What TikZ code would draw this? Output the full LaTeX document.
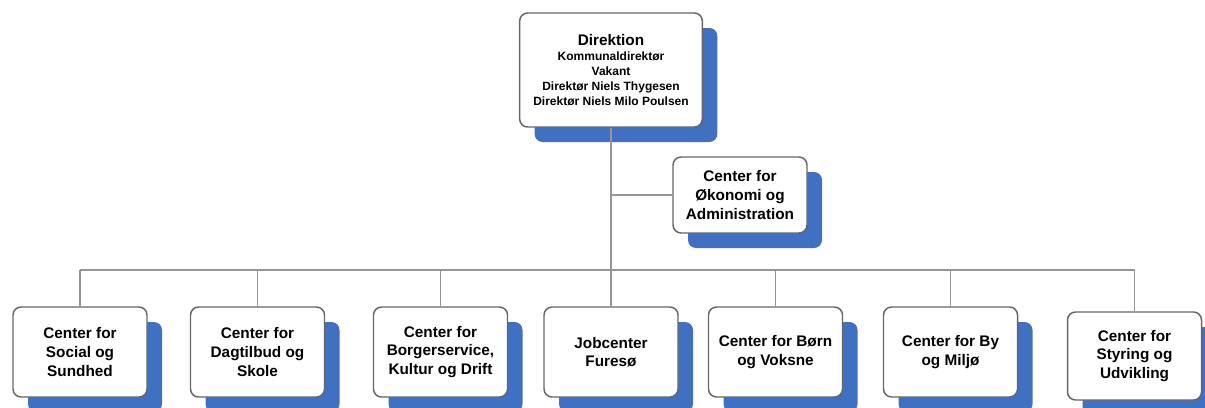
\documentclass[tikz,border=0pt]{standalone}
\usepackage{fontspec}
\setmainfont{Liberation Sans}
\usetikzlibrary{positioning,shadows}
\definecolor{shadowblue}{RGB}{64,112,194}
\definecolor{linegray}{RGB}{150,150,150}

\begin{document}
\begin{tikzpicture}[x=.75pt,y=-.75pt,
  font=\bfseries\fontsize{11.5}{14}\selectfont,
  orgbox/.style={draw=black!60,line width=1.1pt,fill=white,rounded corners=6pt,
    align=center,inner sep=2pt,minimum width=100.5pt,minimum height=67.5pt,
    drop shadow={shadow xshift=11.25pt,shadow yshift=-11.25pt,fill=shadowblue,opacity=1}},
  conn/.style={draw=linegray,line width=1.3pt}]
\useasboundingbox (0,0) rectangle (1205,407);
% top of the chart
\node[orgbox,minimum width=137pt,minimum height=85.5pt] (dir) at (611,70)
  {Direktion\\[-2.8pt]\fontsize{9}{11.6}\selectfont Kommunaldirektør\\[-2.6pt]
   \fontsize{9}{11.6}\selectfont Vakant\\[-2.6pt]
   \fontsize{9}{11.6}\selectfont Direktør Niels Thygesen\\[-2.6pt]
   \fontsize{9}{11.6}\selectfont Direktør Niels Milo Poulsen};
\node[orgbox,minimum height=57pt] (oek) at (740,195) {Center for\\Økonomi og\\Administration};
% the seven centres
\node[orgbox] (soc) at (80,352) {Center for\\Social og\\Sundhed};
\node[orgbox] (dag) at (257.5,352) {Center for\\Dagtilbud og\\Skole};
\node[orgbox] (bor) at (440.5,352) {Center for\\Borgerservice,\\Kultur og Drift};
\node[orgbox] (job) at (611,352) {Jobcenter\\Furesø};
\node[orgbox] (bv) at (775.5,352) {Center for Børn\\og Voksne};
\node[orgbox] (by) at (950.5,352) {Center for By\\og Miljø};
\node[orgbox,minimum height=66pt] (sty) at (1134.5,356) {Center for\\Styring og\\Udvikling};
% connectors
\coordinate (bar) at (611,270);
\begin{scope}[on background layer/.try]
\draw[conn] (dir.south) -- (job.north);
\draw[conn] (oek.west) -- (oek.west -| dir.south);
\draw[conn] (soc.north |- bar) -- (sty.north |- bar);
\foreach \n in {soc,dag,bor,bv,by,sty}{\draw[conn] (\n.north) -- (\n.north |- bar);}
\end{scope}
\end{tikzpicture}
\end{document}
